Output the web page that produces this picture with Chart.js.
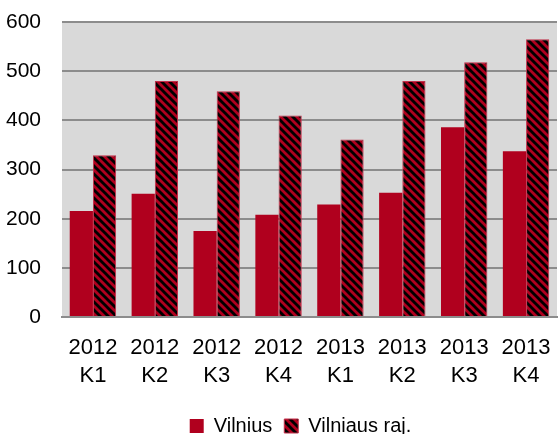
<!DOCTYPE html>
<html>
<head>
<meta charset="utf-8">
<script src="https://cdn.jsdelivr.net/npm/chart.js@4/dist/chart.umd.min.js"></script>
<style>
html,body{margin:0;padding:0;background:#fff;}
#wrap{width:558px;height:434px;}
</style>
</head>
<body>
<div id="wrap"><canvas id="c" width="558" height="434"></canvas></div>
<script>
const categories = [["2012","K1"],["2012","K2"],["2012","K3"],["2012","K4"],["2013","K1"],["2013","K2"],["2013","K3"],["2013","K4"]];
const vilnius = [216, 251, 175, 208, 229, 253, 386, 337];
const vilniausRaj = [329, 480, 459, 410, 361, 480, 518, 565];
const seriesNames = ["Vilnius", "Vilniaus raj."];
const yTicks = [0, 100, 200, 300, 400, 500, 600];

const RED = '#b0001e';

function makeHatch() {
  const s = 8;
  const p = document.createElement('canvas');
  p.width = s; p.height = s;
  const g = p.getContext('2d');
  g.fillStyle = RED;
  g.fillRect(0, 0, s, s);
  g.strokeStyle = '#000';
  g.lineWidth = 2.9;
  for (let k = -1; k <= 1; k++) {
    g.beginPath();
    g.moveTo(k * s - 2, -2);
    g.lineTo(k * s + s + 2, s + 2);
    g.stroke();
  }
  return document.getElementById('c').getContext('2d').createPattern(p, 'repeat');
}
const hatch = makeHatch();

const bgPlugin = {
  id: 'bg',
  beforeDraw(chart) {
    const {ctx, chartArea: a} = chart;
    ctx.save();
    ctx.fillStyle = '#d9d9d9';
    ctx.fillRect(a.left, a.top, a.right - a.left, a.bottom - a.top);
    ctx.restore();
  }
};

const legendShift = {
  id: 'legendShift',
  beforeLayout(chart) {
    const lg = chart.legend;
    if (lg && !lg._shifted) {
      const origFit = lg.fit.bind(lg);
      lg.fit = function () { origFit(); this.height -= 12; };
      const origDraw = lg.draw.bind(lg);
      lg.draw = function () {
        const ctx = this.ctx;
        ctx.save();
        ctx.translate(-9, 0);
        origDraw();
        ctx.restore();
      };
      lg._shifted = true;
    }
  }
};

const FAM = "'Liberation Sans', Arial, sans-serif";
const FONT = { family: FAM, size: 22, lineHeight: 1.27 };

new Chart(document.getElementById('c'), {
  type: 'bar',
  data: {
    labels: categories,
    datasets: [
      { label: seriesNames[0], data: vilnius, backgroundColor: RED, borderWidth: 0 },
      { label: seriesNames[1], data: vilniausRaj, backgroundColor: hatch, borderColor: '#c0304a', borderWidth: 1 }
    ]
  },
  options: {
    responsive: false,
    animation: false,
    devicePixelRatio: 1,
    layout: { padding: { top: 0, right: 1, left: 0, bottom: 0 } },
    datasets: { bar: { barPercentage: 1.0, categoryPercentage: 0.75 } },
    scales: {
      x: {
        afterFit(scale) { scale.paddingLeft = 0; scale.paddingRight = 0; scale.height -= 3; },
        grid: { display: false, drawTicks: false },
        border: { display: true, color: '#8c8c8c', width: 2 },
        ticks: { color: '#000', font: FONT, padding: 17, maxRotation: 0, autoSkip: false }
      },
      y: {
        min: 0, max: 600,
        afterBuildTicks(axis) { axis.ticks = yTicks.map(v => ({ value: v })); },
        afterFit(scale) { scale.paddingTop = 22; scale.width = 62; },
        grid: { color: '#8c8c8c', lineWidth: 2, drawTicks: false },
        border: { display: false },
        ticks: { color: '#000', font: { family: FAM, size: 21 }, padding: 21 }
      }
    },
    plugins: {
      legend: {
        position: 'bottom',
        fullSize: false,
        labels: {
          color: '#000',
          font: { family: FAM, size: 20 },
          boxWidth: 14, boxHeight: 14, padding: 12
        }
      },
      tooltip: { enabled: false }
    }
  },
  plugins: [bgPlugin, legendShift]
});
</script>
</body>
</html>
